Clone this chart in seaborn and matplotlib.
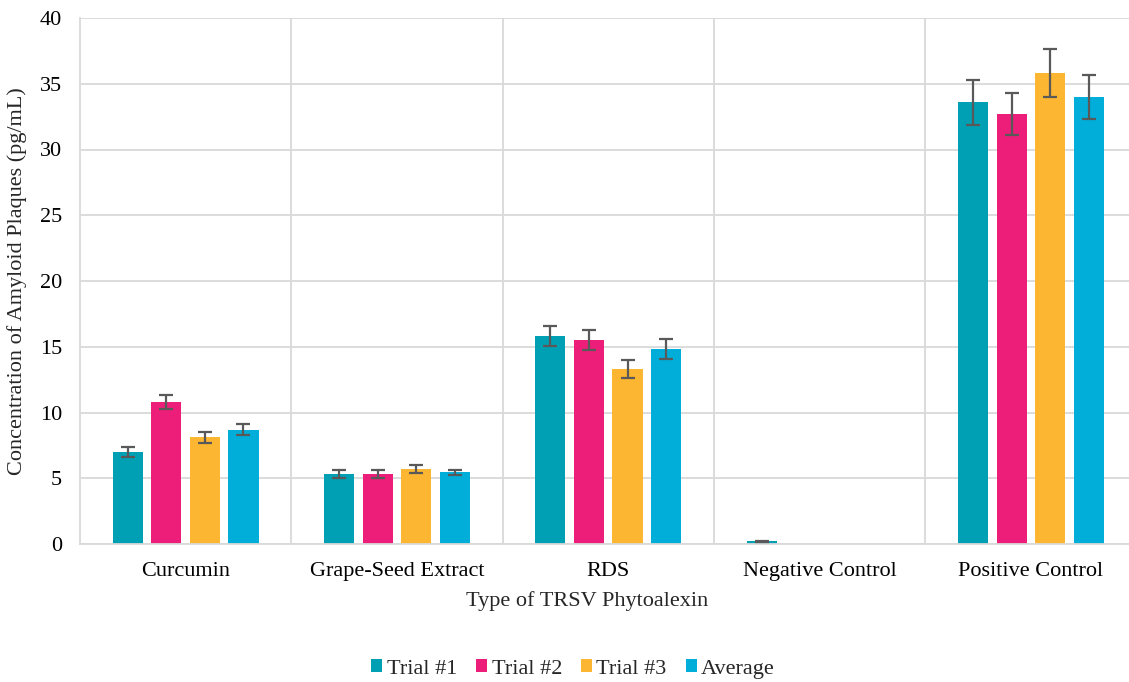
import numpy as np
import pandas as pd
import matplotlib
matplotlib.use("Agg")
import matplotlib.pyplot as plt
from matplotlib.patches import Patch
import seaborn as sns

categories = ["Curcumin", "Grape-Seed Extract", "RDS", "Negative Control", "Positive Control"]
series = ["Trial #1", "Trial #2", "Trial #3", "Average"]
trial1 = [7.0, 5.3, 15.8, 0.2, 33.6]
trial2 = [10.8, 5.3, 15.5, 0.0, 32.7]
trial3 = [8.1, 5.7, 13.3, 0.0, 35.8]
average = [8.7, 5.45, 14.8, 0.0, 34.0]
err1 = [0.38, 0.3, 0.78, 0.02, 1.7]
err2 = [0.5, 0.3, 0.78, np.nan, 1.6]
err3 = [0.42, 0.3, 0.7, np.nan, 1.83]
err_avg = [0.4, 0.2, 0.76, np.nan, 1.68]
colors = ["#00A0B4", "#EC1E79", "#FDB631", "#00AED9"]
y_ticks = [0, 5, 10, 15, 20, 25, 30, 35, 40]

values = [trial1, trial2, trial3, average]
errors = [err1, err2, err3, err_avg]

df = pd.DataFrame({
    "category": np.repeat([categories], len(series), axis=0).ravel(),
    "series": np.repeat(series, len(categories)),
    "value": np.concatenate(values),
})

sns.set_theme(style="white")
plt.rcParams["font.family"] = ["Liberation Serif", "DejaVu Serif"]

FS = 16
W, H = 1129, 682
fig = plt.figure(figsize=(W / 100, H / 100), dpi=100)
ax = fig.add_axes([80 / W, (H - 544) / H, 1056.5 / W, 526 / H])

sns.barplot(data=df, x="category", y="value", hue="series", order=categories,
            hue_order=series, palette=colors, width=0.73, gap=0.22,
            errorbar=None, legend=False, ax=ax, edgecolor="none", saturation=1)

for cont, errs in zip(ax.containers, errors):
    for bar, e in zip(cont, errs):
        if np.isnan(e):
            continue
        xc = bar.get_x() + bar.get_width() / 2
        ax.errorbar(xc, bar.get_height(), yerr=e, fmt="none", ecolor="#595959",
                    elinewidth=1.6, capsize=4.8, capthick=1.6, zorder=5)

ax.set_xlim(-0.5, len(categories) - 0.5)
ax.set_ylim(0, 40)
ax.set_yticks(y_ticks)
ax.set_yticklabels([str(t) for t in y_ticks])
ax.set_xticks(range(len(categories)))
ax.set_xticklabels(categories)
ax.set_xticks(np.arange(0.5, len(categories) - 0.5, 1), minor=True)
grid_c = "#D9D9D9"
ax.yaxis.grid(True, color=grid_c, linewidth=1.3, zorder=0)
ax.xaxis.grid(True, which="minor", color=grid_c, linewidth=1.3, zorder=0)
ax.xaxis.grid(False, which="major")
ax.set_axisbelow(True)
for s in ["top", "right"]:
    ax.spines[s].set_visible(False)
for s in ["left", "bottom"]:
    ax.spines[s].set_color(grid_c)
    ax.spines[s].set_linewidth(1.3)
ax.tick_params(axis="both", which="both", length=0, labelsize=FS, colors="#000000")
ax.tick_params(axis="y", pad=13)
ax.tick_params(axis="x", pad=13)
ax.set_xlabel("")
ax.set_ylabel("Concentration of Amyloid Plaques (pg/mL)", fontsize=FS, labelpad=9)

fig.text(587.5 / W, 1 - 601 / H, "Type of TRSV Phytoalexin", ha="center", va="center", fontsize=FS)

handles = [Patch(facecolor=c, edgecolor="none") for c in colors]
fig.legend(handles, series, loc="center", bbox_to_anchor=(573 / W, 1 - 669 / H), ncol=4,
           frameon=False, fontsize=FS, handlelength=0.5, handleheight=0.5,
           handletextpad=0.2, columnspacing=0.85)

fig.savefig("out.png", dpi=100)
